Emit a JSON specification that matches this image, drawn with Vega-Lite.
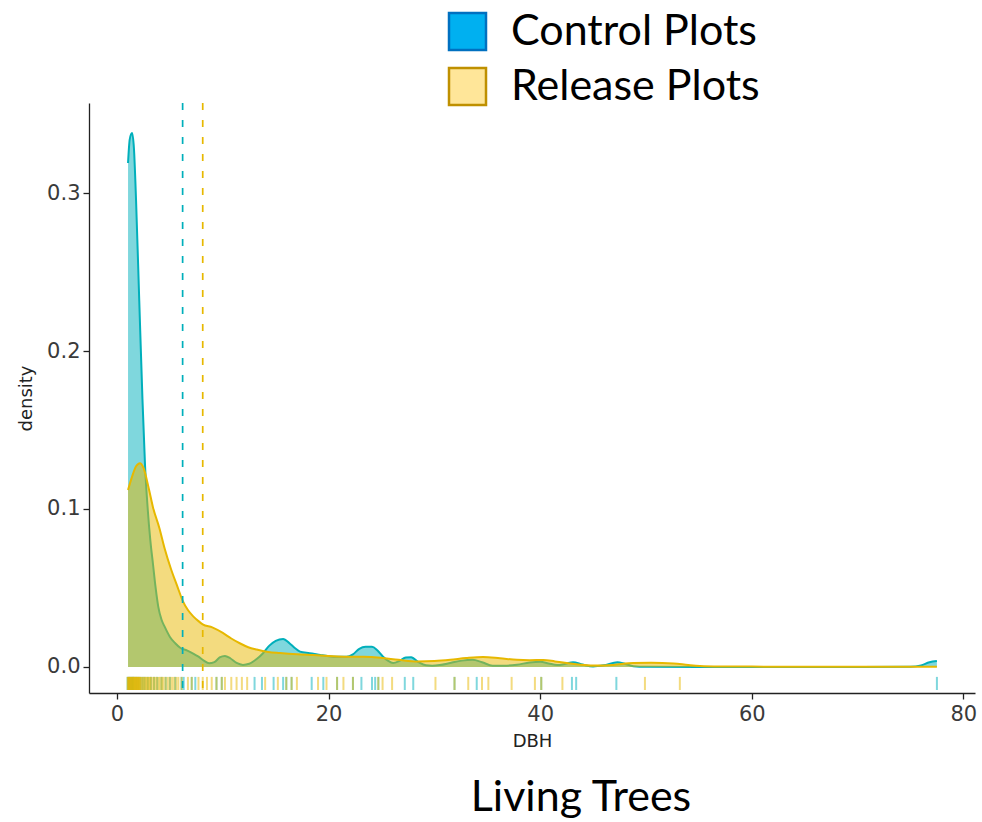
{
  "$schema": "https://vega.github.io/schema/vega-lite/v6.json",
  "width": 886,
  "height": 590,
  "autosize": {"type": "none"},
  "padding": {"left": 89, "top": 103, "right": 7, "bottom": 129},
  "background": "white",
  "view": {"stroke": null},
  "title": {
    "text": "Living Trees",
    "orient": "bottom",
    "frame": "group",
    "anchor": "middle",
    "dx": 49,
    "offset": 27,
    "font": "Lato",
    "fontSize": 43,
    "fontWeight": "normal",
    "color": "black"
  },
  "config": {
    "axis": {
      "grid": false,
      "domainColor": "#222222",
      "domainWidth": 1.3,
      "tickColor": "#222222",
      "tickWidth": 1.3,
      "tickSize": 6,
      "labelFont": "DejaVu Sans",
      "labelFontSize": 21,
      "labelColor": "#3A3A3A",
      "titleFont": "DejaVu Sans",
      "titleFontSize": 18,
      "titleFontWeight": "normal",
      "titleColor": "#222222"
    }
  },
  "datasets": {
    "curves": [
      {"group": "Control", "dbh": 1.04, "density": 0.319},
      {"group": "Control", "dbh": 1.2, "density": 0.334},
      {"group": "Control", "dbh": 1.42, "density": 0.338},
      {"group": "Control", "dbh": 1.6, "density": 0.328},
      {"group": "Control", "dbh": 1.8, "density": 0.295},
      {"group": "Control", "dbh": 2.1, "density": 0.232},
      {"group": "Control", "dbh": 2.4, "density": 0.17},
      {"group": "Control", "dbh": 2.65, "density": 0.127},
      {"group": "Control", "dbh": 2.9, "density": 0.1},
      {"group": "Control", "dbh": 3.15, "density": 0.08},
      {"group": "Control", "dbh": 3.4, "density": 0.065},
      {"group": "Control", "dbh": 3.65, "density": 0.05},
      {"group": "Control", "dbh": 3.9, "density": 0.038},
      {"group": "Control", "dbh": 4.2, "density": 0.03},
      {"group": "Control", "dbh": 4.5, "density": 0.0255},
      {"group": "Control", "dbh": 5.0, "density": 0.019},
      {"group": "Control", "dbh": 5.5, "density": 0.015},
      {"group": "Control", "dbh": 6.0, "density": 0.012},
      {"group": "Control", "dbh": 6.6, "density": 0.0105},
      {"group": "Control", "dbh": 7.2, "density": 0.0085},
      {"group": "Control", "dbh": 7.7, "density": 0.0065},
      {"group": "Control", "dbh": 8.2, "density": 0.004},
      {"group": "Control", "dbh": 8.7, "density": 0.0023},
      {"group": "Control", "dbh": 9.2, "density": 0.003},
      {"group": "Control", "dbh": 9.7, "density": 0.006},
      {"group": "Control", "dbh": 10.2, "density": 0.007},
      {"group": "Control", "dbh": 10.7, "density": 0.0055},
      {"group": "Control", "dbh": 11.3, "density": 0.0025},
      {"group": "Control", "dbh": 11.9, "density": 0.0013},
      {"group": "Control", "dbh": 12.5, "density": 0.002},
      {"group": "Control", "dbh": 13.2, "density": 0.005},
      {"group": "Control", "dbh": 13.8, "density": 0.0087},
      {"group": "Control", "dbh": 14.4, "density": 0.0135},
      {"group": "Control", "dbh": 15.0, "density": 0.0165},
      {"group": "Control", "dbh": 15.7, "density": 0.0177},
      {"group": "Control", "dbh": 16.3, "density": 0.015},
      {"group": "Control", "dbh": 16.8, "density": 0.012},
      {"group": "Control", "dbh": 17.3, "density": 0.0097},
      {"group": "Control", "dbh": 18.2, "density": 0.0087},
      {"group": "Control", "dbh": 19.2, "density": 0.0076},
      {"group": "Control", "dbh": 20.0, "density": 0.0068},
      {"group": "Control", "dbh": 20.8, "density": 0.0064},
      {"group": "Control", "dbh": 21.7, "density": 0.0064},
      {"group": "Control", "dbh": 22.3, "density": 0.008},
      {"group": "Control", "dbh": 22.9, "density": 0.0115},
      {"group": "Control", "dbh": 23.5, "density": 0.0127},
      {"group": "Control", "dbh": 24.1, "density": 0.0127},
      {"group": "Control", "dbh": 24.6, "density": 0.0105},
      {"group": "Control", "dbh": 25.1, "density": 0.0068},
      {"group": "Control", "dbh": 25.6, "density": 0.004},
      {"group": "Control", "dbh": 26.1, "density": 0.0025},
      {"group": "Control", "dbh": 26.7, "density": 0.0038},
      {"group": "Control", "dbh": 27.3, "density": 0.006},
      {"group": "Control", "dbh": 27.8, "density": 0.0062},
      {"group": "Control", "dbh": 28.5, "density": 0.003},
      {"group": "Control", "dbh": 29.2, "density": 0.001},
      {"group": "Control", "dbh": 29.8, "density": 0.0008},
      {"group": "Control", "dbh": 30.5, "density": 0.0012},
      {"group": "Control", "dbh": 31.5, "density": 0.0025},
      {"group": "Control", "dbh": 32.6, "density": 0.004},
      {"group": "Control", "dbh": 33.6, "density": 0.0045},
      {"group": "Control", "dbh": 34.5, "density": 0.003},
      {"group": "Control", "dbh": 35.5, "density": 0.0008},
      {"group": "Control", "dbh": 36.6, "density": 0.0008},
      {"group": "Control", "dbh": 37.8, "density": 0.0014},
      {"group": "Control", "dbh": 39.0, "density": 0.0028},
      {"group": "Control", "dbh": 40.0, "density": 0.0033},
      {"group": "Control", "dbh": 40.8, "density": 0.0022},
      {"group": "Control", "dbh": 41.6, "density": 0.0012},
      {"group": "Control", "dbh": 42.4, "density": 0.002},
      {"group": "Control", "dbh": 43.1, "density": 0.003},
      {"group": "Control", "dbh": 44.0, "density": 0.0015},
      {"group": "Control", "dbh": 45.0, "density": 0.0003},
      {"group": "Control", "dbh": 46.0, "density": 0.001},
      {"group": "Control", "dbh": 47.3, "density": 0.003},
      {"group": "Control", "dbh": 48.0, "density": 0.002},
      {"group": "Control", "dbh": 48.8, "density": 0.0005},
      {"group": "Control", "dbh": 50.0, "density": 0.0001},
      {"group": "Control", "dbh": 55.0, "density": 0.0},
      {"group": "Control", "dbh": 60.0, "density": 0.0},
      {"group": "Control", "dbh": 70.0, "density": 0.0},
      {"group": "Control", "dbh": 75.0, "density": 0.0001},
      {"group": "Control", "dbh": 76.0, "density": 0.001},
      {"group": "Control", "dbh": 76.8, "density": 0.003},
      {"group": "Control", "dbh": 77.5, "density": 0.0037},
      {"group": "Release", "dbh": 1.04, "density": 0.112},
      {"group": "Release", "dbh": 1.4, "density": 0.12},
      {"group": "Release", "dbh": 1.8, "density": 0.127},
      {"group": "Release", "dbh": 2.17, "density": 0.129},
      {"group": "Release", "dbh": 2.5, "density": 0.126},
      {"group": "Release", "dbh": 3.0, "density": 0.113},
      {"group": "Release", "dbh": 3.4, "density": 0.101},
      {"group": "Release", "dbh": 4.0, "density": 0.088},
      {"group": "Release", "dbh": 4.5, "density": 0.075},
      {"group": "Release", "dbh": 5.1, "density": 0.062},
      {"group": "Release", "dbh": 5.7, "density": 0.051},
      {"group": "Release", "dbh": 6.2, "density": 0.042},
      {"group": "Release", "dbh": 6.7, "density": 0.036},
      {"group": "Release", "dbh": 7.2, "density": 0.032},
      {"group": "Release", "dbh": 7.7, "density": 0.029},
      {"group": "Release", "dbh": 8.1, "density": 0.027},
      {"group": "Release", "dbh": 9.0, "density": 0.025},
      {"group": "Release", "dbh": 10.0, "density": 0.0215},
      {"group": "Release", "dbh": 10.8, "density": 0.018},
      {"group": "Release", "dbh": 11.6, "density": 0.015},
      {"group": "Release", "dbh": 12.4, "density": 0.0125},
      {"group": "Release", "dbh": 13.2, "density": 0.011},
      {"group": "Release", "dbh": 14.3, "density": 0.0095},
      {"group": "Release", "dbh": 15.4, "density": 0.0088},
      {"group": "Release", "dbh": 17.0, "density": 0.008},
      {"group": "Release", "dbh": 18.5, "density": 0.0075},
      {"group": "Release", "dbh": 20.0, "density": 0.007},
      {"group": "Release", "dbh": 21.7, "density": 0.0065},
      {"group": "Release", "dbh": 23.3, "density": 0.0064},
      {"group": "Release", "dbh": 24.9, "density": 0.0058},
      {"group": "Release", "dbh": 26.6, "density": 0.0045},
      {"group": "Release", "dbh": 28.4, "density": 0.0034},
      {"group": "Release", "dbh": 30.0, "density": 0.0037},
      {"group": "Release", "dbh": 31.5, "density": 0.0045},
      {"group": "Release", "dbh": 33.0, "density": 0.0056},
      {"group": "Release", "dbh": 34.6, "density": 0.0063},
      {"group": "Release", "dbh": 36.2, "density": 0.0055},
      {"group": "Release", "dbh": 37.8, "density": 0.0045},
      {"group": "Release", "dbh": 39.0, "density": 0.0043},
      {"group": "Release", "dbh": 40.3, "density": 0.0044},
      {"group": "Release", "dbh": 41.4, "density": 0.0035},
      {"group": "Release", "dbh": 42.5, "density": 0.0025},
      {"group": "Release", "dbh": 43.8, "density": 0.0014},
      {"group": "Release", "dbh": 45.0, "density": 0.0009},
      {"group": "Release", "dbh": 46.9, "density": 0.0013},
      {"group": "Release", "dbh": 48.8, "density": 0.0025},
      {"group": "Release", "dbh": 50.5, "density": 0.0026},
      {"group": "Release", "dbh": 52.6, "density": 0.0022},
      {"group": "Release", "dbh": 54.0, "density": 0.0012},
      {"group": "Release", "dbh": 55.1, "density": 0.0006},
      {"group": "Release", "dbh": 57.0, "density": 0.0003},
      {"group": "Release", "dbh": 60.0, "density": 0.0002},
      {"group": "Release", "dbh": 65.0, "density": 0.0001},
      {"group": "Release", "dbh": 70.0, "density": 0.0001},
      {"group": "Release", "dbh": 77.5, "density": 0.0001}
    ],
    "means": [
      {"group": "Control", "label": "Control Plots", "dbh": 6.2},
      {"group": "Release", "label": "Release Plots", "dbh": 8.1}
    ],
    "rug": [
      {"group": "Control", "dbh": 1.0}, {"group": "Control", "dbh": 1.1}, {"group": "Control", "dbh": 1.2},
      {"group": "Control", "dbh": 1.3}, {"group": "Control", "dbh": 1.4}, {"group": "Control", "dbh": 1.5},
      {"group": "Control", "dbh": 1.6}, {"group": "Control", "dbh": 1.8}, {"group": "Control", "dbh": 2.0},
      {"group": "Control", "dbh": 2.2}, {"group": "Control", "dbh": 2.4}, {"group": "Control", "dbh": 2.6},
      {"group": "Control", "dbh": 2.9}, {"group": "Control", "dbh": 3.2}, {"group": "Control", "dbh": 3.5},
      {"group": "Control", "dbh": 3.8}, {"group": "Control", "dbh": 4.2}, {"group": "Control", "dbh": 4.6},
      {"group": "Control", "dbh": 5.0}, {"group": "Control", "dbh": 5.5}, {"group": "Control", "dbh": 6.1},
      {"group": "Control", "dbh": 6.3}, {"group": "Control", "dbh": 7.06}, {"group": "Control", "dbh": 7.4},
      {"group": "Control", "dbh": 9.4}, {"group": "Control", "dbh": 9.9}, {"group": "Control", "dbh": 13.0},
      {"group": "Control", "dbh": 13.7}, {"group": "Control", "dbh": 14.8}, {"group": "Control", "dbh": 15.7},
      {"group": "Control", "dbh": 16.0}, {"group": "Control", "dbh": 16.5}, {"group": "Control", "dbh": 18.4},
      {"group": "Control", "dbh": 19.5}, {"group": "Control", "dbh": 20.8}, {"group": "Control", "dbh": 22.3},
      {"group": "Control", "dbh": 23.1}, {"group": "Control", "dbh": 24.1}, {"group": "Control", "dbh": 24.4},
      {"group": "Control", "dbh": 24.7}, {"group": "Control", "dbh": 27.2}, {"group": "Control", "dbh": 28.0},
      {"group": "Control", "dbh": 31.9}, {"group": "Control", "dbh": 34.0}, {"group": "Control", "dbh": 40.1},
      {"group": "Control", "dbh": 43.0}, {"group": "Control", "dbh": 43.4}, {"group": "Control", "dbh": 47.2},
      {"group": "Control", "dbh": 77.5},
      {"group": "Release", "dbh": 1.0}, {"group": "Release", "dbh": 1.05}, {"group": "Release", "dbh": 1.1},
      {"group": "Release", "dbh": 1.15}, {"group": "Release", "dbh": 1.2}, {"group": "Release", "dbh": 1.25},
      {"group": "Release", "dbh": 1.3}, {"group": "Release", "dbh": 1.35}, {"group": "Release", "dbh": 1.4},
      {"group": "Release", "dbh": 1.45}, {"group": "Release", "dbh": 1.5}, {"group": "Release", "dbh": 1.55},
      {"group": "Release", "dbh": 1.6}, {"group": "Release", "dbh": 1.65}, {"group": "Release", "dbh": 1.7},
      {"group": "Release", "dbh": 1.75}, {"group": "Release", "dbh": 1.8}, {"group": "Release", "dbh": 1.85},
      {"group": "Release", "dbh": 1.9}, {"group": "Release", "dbh": 1.95}, {"group": "Release", "dbh": 2.0},
      {"group": "Release", "dbh": 2.05}, {"group": "Release", "dbh": 2.1}, {"group": "Release", "dbh": 2.15},
      {"group": "Release", "dbh": 2.2}, {"group": "Release", "dbh": 2.3}, {"group": "Release", "dbh": 2.4},
      {"group": "Release", "dbh": 2.5}, {"group": "Release", "dbh": 2.6}, {"group": "Release", "dbh": 2.7},
      {"group": "Release", "dbh": 2.8}, {"group": "Release", "dbh": 2.9}, {"group": "Release", "dbh": 3.0},
      {"group": "Release", "dbh": 3.1}, {"group": "Release", "dbh": 3.2}, {"group": "Release", "dbh": 3.35},
      {"group": "Release", "dbh": 3.5}, {"group": "Release", "dbh": 3.65}, {"group": "Release", "dbh": 3.8},
      {"group": "Release", "dbh": 3.95}, {"group": "Release", "dbh": 4.1}, {"group": "Release", "dbh": 4.25},
      {"group": "Release", "dbh": 4.4}, {"group": "Release", "dbh": 4.6}, {"group": "Release", "dbh": 4.8},
      {"group": "Release", "dbh": 5.0}, {"group": "Release", "dbh": 5.2}, {"group": "Release", "dbh": 5.4},
      {"group": "Release", "dbh": 5.6}, {"group": "Release", "dbh": 5.8}, {"group": "Release", "dbh": 6.1},
      {"group": "Release", "dbh": 6.7}, {"group": "Release", "dbh": 7.06}, {"group": "Release", "dbh": 7.7},
      {"group": "Release", "dbh": 8.1}, {"group": "Release", "dbh": 8.5}, {"group": "Release", "dbh": 8.95},
      {"group": "Release", "dbh": 9.4}, {"group": "Release", "dbh": 9.9}, {"group": "Release", "dbh": 10.2},
      {"group": "Release", "dbh": 10.8}, {"group": "Release", "dbh": 11.3}, {"group": "Release", "dbh": 11.8},
      {"group": "Release", "dbh": 12.3}, {"group": "Release", "dbh": 14.0}, {"group": "Release", "dbh": 15.2},
      {"group": "Release", "dbh": 16.0}, {"group": "Release", "dbh": 16.5}, {"group": "Release", "dbh": 17.0},
      {"group": "Release", "dbh": 19.0}, {"group": "Release", "dbh": 19.8}, {"group": "Release", "dbh": 20.8},
      {"group": "Release", "dbh": 21.4}, {"group": "Release", "dbh": 22.3}, {"group": "Release", "dbh": 24.7},
      {"group": "Release", "dbh": 25.1}, {"group": "Release", "dbh": 26.0}, {"group": "Release", "dbh": 30.1},
      {"group": "Release", "dbh": 31.9}, {"group": "Release", "dbh": 33.2}, {"group": "Release", "dbh": 34.5},
      {"group": "Release", "dbh": 35.1}, {"group": "Release", "dbh": 37.3}, {"group": "Release", "dbh": 39.5},
      {"group": "Release", "dbh": 40.1}, {"group": "Release", "dbh": 42.1}, {"group": "Release", "dbh": 49.9},
      {"group": "Release", "dbh": 53.2}
    ]
  },
  "encoding": {
    "x": {
      "field": "dbh",
      "type": "quantitative",
      "title": "DBH",
      "scale": {"domain": [-2.65, 81.1], "nice": false, "zero": false},
      "axis": {"values": [0, 20, 40, 60, 80], "labelPadding": 4, "titlePadding": 8}
    }
  },
  "layer": [
    {
      "data": {"name": "curves"},
      "transform": [{"filter": "datum.group === 'Control'"}],
      "mark": {"type": "area", "interpolate": "monotone", "opacity": 0.5},
      "encoding": {
        "y": {
          "field": "density",
          "type": "quantitative",
          "title": "density",
          "scale": {"domain": [-0.0165, 0.357], "nice": false, "zero": false},
          "axis": {"values": [0, 0.1, 0.2, 0.3], "format": ".1f", "labelPadding": 3, "titlePadding": 11}
        },
        "y2": {"datum": 0},
        "color": {
          "field": "group",
          "type": "nominal",
          "scale": {"domain": ["Control", "Release"], "range": ["#00AFBB", "#E7B800"]},
          "legend": null
        }
      }
    },
    {
      "data": {"name": "curves"},
      "transform": [{"filter": "datum.group === 'Control'"}],
      "mark": {"type": "line", "interpolate": "monotone", "strokeWidth": 2},
      "encoding": {
        "y": {"field": "density", "type": "quantitative"},
        "color": {"field": "group", "type": "nominal", "legend": null}
      }
    },
    {
      "data": {"name": "curves"},
      "transform": [{"filter": "datum.group === 'Release'"}],
      "mark": {"type": "area", "interpolate": "monotone", "opacity": 0.5},
      "encoding": {
        "y": {"field": "density", "type": "quantitative"},
        "y2": {"datum": 0},
        "color": {"field": "group", "type": "nominal", "legend": null}
      }
    },
    {
      "data": {"name": "curves"},
      "transform": [{"filter": "datum.group === 'Release'"}],
      "mark": {"type": "line", "interpolate": "monotone", "strokeWidth": 2},
      "encoding": {
        "y": {"field": "density", "type": "quantitative"},
        "color": {"field": "group", "type": "nominal", "legend": null}
      }
    },
    {
      "data": {"name": "rug"},
      "mark": {"type": "rule", "strokeWidth": 2, "opacity": 0.5},
      "encoding": {
        "y": {"datum": -0.0063},
        "y2": {"datum": -0.0146},
        "color": {"field": "group", "type": "nominal", "legend": null}
      }
    },
    {
      "data": {"name": "means"},
      "mark": {"type": "rule", "strokeWidth": 1.7, "strokeDash": [7, 10]},
      "encoding": {
        "color": {"field": "group", "type": "nominal", "legend": null}
      }
    },
    {
      "data": {"name": "means"},
      "mark": {"type": "point", "shape": "square", "filled": true, "size": 1, "fillOpacity": 0, "strokeOpacity": 0},
      "encoding": {
        "y": {"datum": 0},
        "fill": {
          "field": "label",
          "type": "nominal",
          "scale": {"domain": ["Control Plots", "Release Plots"], "range": ["#00B0F0", "#FFE699"]},
          "legend": {
            "orient": "none",
            "legendX": 357,
            "legendY": -93,
            "title": null,
            "padding": 0,
            "symbolType": "square",
            "symbolSize": 1369,
            "symbolStrokeWidth": 2.5,
            "symbolOpacity": 1,
            "labelFont": "Lato",
            "labelFontSize": 43,
            "labelColor": "black",
            "labelOffset": 22,
            "rowPadding": 8,
            "labelLimit": 400
          }
        },
        "stroke": {
          "field": "label",
          "type": "nominal",
          "scale": {"domain": ["Control Plots", "Release Plots"], "range": ["#0070C0", "#BF9000"]},
          "legend": {
            "orient": "none",
            "legendX": 357,
            "legendY": -93,
            "title": null,
            "padding": 0,
            "symbolType": "square",
            "symbolSize": 1369,
            "symbolStrokeWidth": 2.5,
            "symbolOpacity": 1,
            "labelFont": "Lato",
            "labelFontSize": 43,
            "labelColor": "black",
            "labelOffset": 22,
            "rowPadding": 8,
            "labelLimit": 400
          }
        }
      }
    }
  ]
}
